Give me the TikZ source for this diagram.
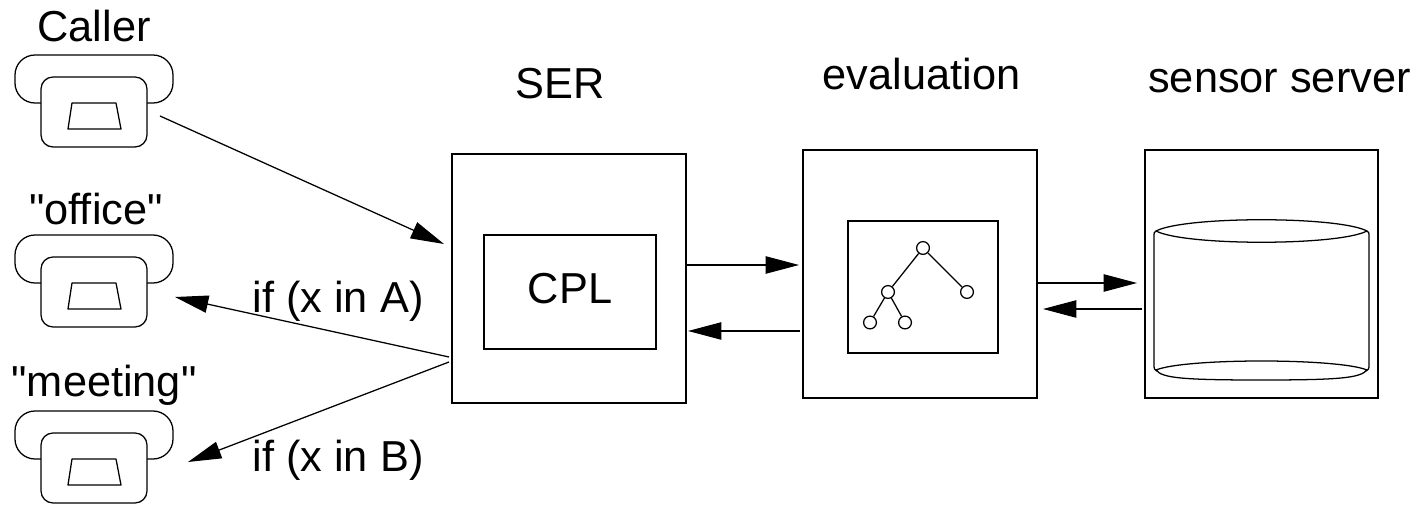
\documentclass[tikz,border=0pt]{standalone}
\usepackage{fontspec}
\newfontfamily\lblfont{Liberation Sans}
\usetikzlibrary{fit,arrows.meta}
\tikzset{
  ln/.style={line width=0.95pt,black},
  boxn/.style={ln,draw,rectangle,inner sep=0pt,fit={#1}},
  handset/.style={ln,draw,rectangle,inner sep=0pt,rounded corners=15pt,fit={#1}},
  phonebody/.style={ln,draw,fill=white,rectangle,inner sep=0pt,rounded corners=9pt,fit={#1}},
  lbl/.style={font=\lblfont\fontsize{32.5}{36}\selectfont,anchor=base,inner sep=0pt},
  tnode/.style={ln,draw,fill=white,circle,inner sep=0pt,minimum size=9.6pt},
  arr/.style={ln,-{Triangle[length=25pt,width=13pt]}},
  cyl/.style={ln,line join=round}
}
\begin{document}
\begin{tikzpicture}[x=0.75pt,y=-0.75pt]
\useasboundingbox (0,0) rectangle (1422,509);
% phones
\foreach \n/\dd in {caller/0,office/180,meeting/356}{
  \begin{scope}[yshift=-\dd*0.75pt]
  \node[handset={(15,55)(173,103)}] (\n hand) {};
  \node[phonebody={(41,77)(147,147)}] (\n body) {};
  \draw[ln,line join=round] (72,103) -- (116,103) -- (121,129) -- (68,129) -- cycle;
  \end{scope}
}
\node[lbl] (tcaller) at (94,42) {Caller};
\node[lbl] (toffice) at (96,225) {"office"};
\node[lbl] (tmeeting) at (104,397) {"meeting"};
% boxes
\node[boxn={(452,154)(686,403)}] (ser) {};
\node[boxn={(484,235)(656,349)}] (cpl) {};
\node[lbl] (tcpl) at (570,304) {CPL};
\node[boxn={(803,150)(1037,398)}] (eval) {};
\node[boxn={(848,221)(998,353)}] (evin) {};
\node[boxn={(1145,150)(1378,398)}] (sens) {};
\node[lbl] (tser) at (560,99) {SER};
\node[lbl] (teval) at (921.5,89.5) {evaluation};
\node[lbl] (tsens) at (1279.5,92.5) {sensor server};
% tree
\node[tnode] (r) at (923,248) {};
\node[tnode] (a) at (888,292) {};
\node[tnode] (b) at (967,292) {};
\node[tnode] (c) at (870,322.5) {};
\node[tnode] (d) at (905,322.5) {};
\draw[ln] (r) -- (a) (r) -- (b) (a) -- (c) (a) -- (d);
% cylinder
\draw[cyl,fill=white] (1156,231) .. controls (1185,216) and (1338,216) .. (1367,231)
   .. controls (1338,246) and (1185,246) .. cycle;
\draw[cyl] (1156,231) .. controls (1154,232) and (1154,233) .. (1154,235) -- (1154,367)
   .. controls (1154,369) and (1155,370) .. (1157,371);
\draw[cyl] (1367,231) .. controls (1369,232) and (1369,233) .. (1369,235) -- (1369,367)
   .. controls (1369,369) and (1368,370) .. (1366,371);
\draw[cyl] (1156,370) .. controls (1185,358) and (1338,358) .. (1367,370)
   .. controls (1360,378) and (1340,380) .. (1261,380) .. controls (1182,380) and (1162,378) .. cycle;
% connector ends
\coordinate (c1) at (160,116); \coordinate (c2) at (444,244);
\coordinate (o1) at (449,357); \coordinate (o2) at (175,297);
\coordinate (m1) at (449,362); \coordinate (m2) at (188,462);
\coordinate (s1) at (687,265); \coordinate (s2) at (799,265);
\coordinate (e1) at (800,331); \coordinate (e2) at (688,331);
\coordinate (f1) at (1037,283); \coordinate (f2) at (1137,283);
\coordinate (g1) at (1142,309); \coordinate (g2) at (1043,309);
\draw[arr] (c1) -- (c2);
\draw[arr] (o1) -- (o2);
\draw[arr] (m1) -- (m2);
\draw[arr] (s1) -- (s2);
\draw[arr] (e1) -- (e2);
\draw[arr] (f1) -- (f2);
\draw[arr] (g1) -- (g2);
\node[lbl] (ifa) at (338,313) {if (x in A)};
\node[lbl] (ifb) at (338,472) {if (x in B)};
\end{tikzpicture}
\end{document}
